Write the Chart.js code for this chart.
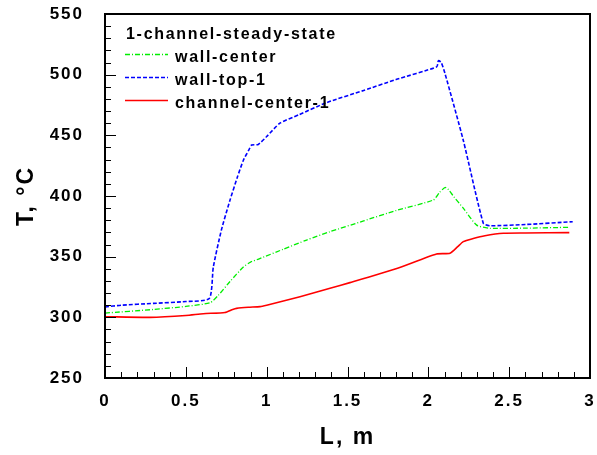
<!DOCTYPE html>
<html lang="en">

<head>
    <meta charset="UTF-8">
    <title>1-channel-steady-state</title>
    <script src="https://cdn.jsdelivr.net/npm/chart.js"></script>
    <style>
        body {
            margin: 0;
            background-color: #ffffff;
        }

        .wrap {
            width: 597px;
            height: 455px;
        }
    </style>
</head>

<body>
    <div class="wrap">
        <canvas id="tempChart"></canvas>
    </div>

    <script>
        const legendTitle = '1-channel-steady-state';
        const seriesNames = ['wall-center', 'wall-top-1', 'channel-center-1'];

        const xTicks = [0, 0.5, 1, 1.5, 2, 2.5, 3];
        const yTicks = [250, 300, 350, 400, 450, 500, 550];

        // wall-center
        const wallCenterL = [0, 0.3, 0.5, 0.65, 0.7, 0.773, 0.856, 0.9, 0.95, 1.1, 1.247, 1.392, 1.6, 1.8, 2.031, 2.07, 2.103, 2.12, 2.16, 2.216, 2.299, 2.38, 2.6, 2.872];
        const wallCenterT = [303.5, 306.5, 309, 312, 318, 329.5, 341.5, 345.5, 348, 356, 363.7, 370.6, 379.5, 388, 396.7, 403, 407, 406, 399, 390, 376, 373.4, 373.5, 374.2];

        // wall-top-1
        const wallTopL = [0, 0.1, 0.3, 0.5, 0.645, 0.67, 0.72, 0.773, 0.82, 0.856, 0.89, 0.907, 0.948, 1.0, 1.082, 1.2, 1.371, 1.6, 1.8, 2.052, 2.062, 2.08, 2.103, 2.216, 2.34, 2.38, 2.6, 2.893];
        const wallTopT = [308.5, 310, 311.5, 313, 315.5, 341.5, 372, 396.5, 416, 429.5, 438, 442, 442.5, 449, 460, 467, 477, 487, 496, 506.5, 511.5, 510, 501, 446, 377.5, 375.5, 376.5, 378.8];

        // channel-center-1
        const channelL = [0, 0.278, 0.5, 0.608, 0.742, 0.79, 0.814, 0.886, 0.959, 1.0, 1.206, 1.392, 1.515, 1.8, 2.051, 2.134, 2.18, 2.216, 2.278, 2.35, 2.464, 2.6, 2.872];
        const channelT = [300.5, 300, 301.5, 303, 304, 306.5, 307.4, 308.3, 308.8, 310, 317, 324, 328.6, 340, 352.2, 352.8, 358, 362.4, 365, 367.3, 369.3, 369.5, 369.8];

        const FONT = 'Arial, "Liberation Sans", sans-serif';

        function toPoints(xs, ys) {
            return xs.map((x, i) => ({ x: x, y: ys[i] }));
        }

        // frame, inward tick marks and the legend box in the upper left
        const decorations = {
            id: 'decorations',
            beforeDraw(chart) {
                chart.ctx.letterSpacing = '2px';
            },
            afterDraw(chart) {
                const ctx = chart.ctx;
                const a = chart.chartArea;
                const xs = chart.scales.x;
                const ys = chart.scales.y;

                ctx.save();
                ctx.strokeStyle = '#000';
                ctx.lineWidth = 1;
                ctx.beginPath();
                for (let i = 0; i <= 30; i++) {
                    const px = Math.round(xs.getPixelForValue(i / 10)) + 0.5;
                    const len = i % 5 === 0 ? 11 : 6;
                    ctx.moveTo(px, a.bottom);
                    ctx.lineTo(px, a.bottom - len);
                }
                for (let i = 0; i <= 30; i++) {
                    const py = Math.round(ys.getPixelForValue(250 + i * 10)) + 0.5;
                    const len = i % 5 === 0 ? 11 : 6;
                    ctx.moveTo(a.left, py);
                    ctx.lineTo(a.left + len, py);
                }
                ctx.stroke();

                ctx.lineWidth = 2;
                ctx.strokeRect(a.left, a.top, a.right - a.left, a.bottom - a.top);

                // legend
                ctx.letterSpacing = '1.7px';
                ctx.fillStyle = '#000';
                ctx.font = 'bold 16px ' + FONT;
                ctx.textAlign = 'left';
                ctx.textBaseline = 'alphabetic';
                ctx.fillText(legendTitle, 126, 38.5);

                chart.data.datasets.forEach((ds, i) => {
                    const y = 54.5 + i * 23;
                    ctx.strokeStyle = ds.borderColor;
                    ctx.lineWidth = ds.borderWidth;
                    ctx.setLineDash(ds.borderDash || []);
                    ctx.beginPath();
                    ctx.moveTo(125, y);
                    ctx.lineTo(168, y);
                    ctx.stroke();
                    ctx.setLineDash([]);
                    ctx.fillText(ds.label, 175, y + 7.3);
                });
                ctx.restore();
            }
        };

        function renderChart() {
            const ctx = document.getElementById('tempChart').getContext('2d');

            new Chart(ctx, {
                type: 'line',
                data: {
                    datasets: [{
                        label: seriesNames[0],
                        data: toPoints(wallCenterL, wallCenterT),
                        borderColor: '#00ee00',
                        borderWidth: 1.3,
                        borderDash: [5, 2, 1, 2]
                    }, {
                        label: seriesNames[1],
                        data: toPoints(wallTopL, wallTopT),
                        borderColor: '#0000ff',
                        borderWidth: 1.6,
                        borderDash: [4, 2]
                    }, {
                        label: seriesNames[2],
                        data: toPoints(channelL, channelT),
                        borderColor: '#ff0000',
                        borderWidth: 1.6
                    }]
                },
                options: {
                    responsive: true,
                    maintainAspectRatio: false,
                    animation: false,
                    elements: {
                        point: { radius: 0 },
                        line: { tension: 0.2, fill: false }
                    },
                    layout: {
                        padding: { top: 14, right: 7, left: 0, bottom: 0 }
                    },
                    plugins: {
                        legend: { display: false },
                        tooltip: { enabled: false }
                    },
                    scales: {
                        x: {
                            type: 'linear',
                            min: 0,
                            max: 3,
                            grid: { display: false },
                            border: { display: false },
                            afterBuildTicks: s => { s.ticks = xTicks.map(v => ({ value: v })); },
                            afterFit: s => {
                                s.height = 77;
                                s.paddingLeft = 0;
                                s.paddingRight = 0;
                            },
                            ticks: {
                                padding: 5,
                                color: '#000',
                                font: { family: FONT, size: 17, weight: 'bold' },
                                maxRotation: 0,
                                callback: v => String(v)
                            },
                            title: {
                                display: true,
                                text: 'L, m',
                                color: '#000',
                                padding: { top: 0, bottom: 4 },
                                font: { family: FONT, size: 23, weight: 'bold' }
                            }
                        },
                        y: {
                            min: 250,
                            max: 550,
                            grid: { display: false },
                            border: { display: false },
                            afterBuildTicks: s => { s.ticks = yTicks.map(v => ({ value: v })); },
                            afterFit: s => {
                                s.width = 105;
                                s.paddingTop = 0;
                                s.paddingBottom = 0;
                            },
                            ticks: {
                                padding: 13,
                                color: '#000',
                                font: { family: FONT, size: 17, weight: 'bold' },
                                callback: v => String(v)
                            },
                            title: {
                                display: true,
                                text: 'T, °C',
                                color: '#000',
                                padding: { top: 13, bottom: 0 },
                                font: { family: FONT, size: 23, weight: 'bold' }
                            }
                        }
                    }
                },
                plugins: [decorations]
            });
        }

        document.addEventListener('DOMContentLoaded', renderChart);
    </script>
</body>

</html>
